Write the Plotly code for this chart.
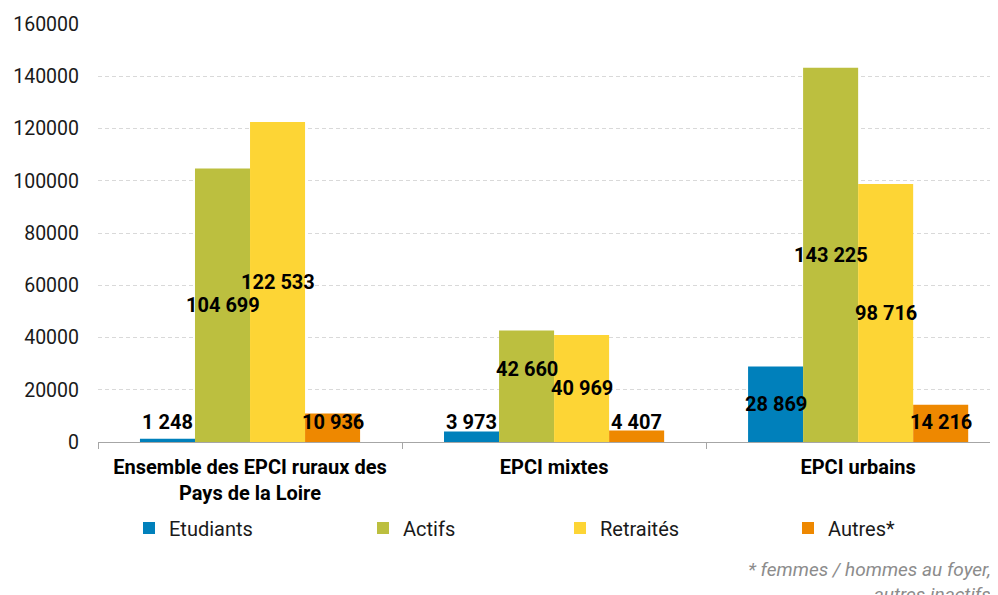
import plotly.graph_objects as go

categories = ['Ensemble des EPCI ruraux des<br>Pays de la Loire', 'EPCI mixtes', 'EPCI urbains']
series_names = ['Etudiants', 'Actifs', 'Retraités', 'Autres*']
etudiants = [1248, 3973, 28869]
actifs = [104699, 42660, 143225]
retraites = [122533, 40969, 98716]
autres = [10936, 4407, 14216]

colors = ['#0080bb', '#bcbf3f', '#fdd535', '#ee8800']
values = [etudiants, actifs, retraites, autres]

# legend symbol centres (px, in the page) for each series, one legend each
legend_px = [150, 384, 581, 809]
# small manual nudge of a label to avoid a collision, as in the source chart
label_nudge = {(1, 1): 17}


def fmt(v):
    return f'{v:,}'.replace(',', ' ')


# the page body has an 8px margin, so the figure is drawn 8px smaller
OFF = 8
W, H = 998 - OFF, 595 - OFF
fig = go.Figure()
for i, (name, vals, col) in enumerate(zip(series_names, values, colors)):
    fig.add_trace(go.Bar(
        x=categories, y=vals, name=name,
        marker=dict(color=col, line=dict(width=0)),
        hoverinfo='y+name',
        legend='legend' if i == 0 else f'legend{i + 1}'
    ))

# data labels: centred on bar, kept above the axis for small bars
bar_px = 55
for s, vals in enumerate(values):
    shift = (s - 1.5) * bar_px
    for c_i, (c, v) in enumerate(zip(categories, vals)):
        fig.add_annotation(
            x=c, y=max(v / 2, 7600), text=fmt(v), showarrow=False,
            xshift=shift, yshift=label_nudge.get((s, c_i), 0),
            yanchor='middle', xanchor='center',
            font=dict(family='Roboto', size=20, color='#000000', weight='bold')
        )

fig.add_annotation(
    xref='paper', yref='paper', x=1, y=-0.273, xanchor='right', yanchor='top',
    xshift=-5, align='right', showarrow=False,
    text='<i>* femmes / hommes au foyer,<br>autres inactifs</i>',
    font=dict(family='Roboto', size=19, color='#8c8c8c')
)

legends = {}
for i, px in enumerate(legend_px):
    key = 'legend' if i == 0 else f'legend{i + 1}'
    legends[key] = dict(
        xref='container', yref='container',
        x=(px - OFF - 21) / W, y=1 - (528 - OFF) / H, xanchor='left', yanchor='middle',
        orientation='h', itemwidth=30, bgcolor='rgba(0,0,0,0)',
        font=dict(family='Roboto', size=20, color='#1a1a1a'),
        itemclick=False
    )

fig.update_layout(
    width=W, height=H,
    plot_bgcolor='white', paper_bgcolor='white',
    font=dict(family='Roboto', size=18, color='#1a1a1a'),
    barmode='group', bargap=0.276, bargroupgap=0,
    margin=dict(l=98 - OFF, r=0, t=24 - OFF, b=595 - 442),
    showlegend=True,
    xaxis=dict(
        range=[-0.5, 2.46], showgrid=False, automargin=False,
        showline=True, linecolor='#a6a6a6', linewidth=1,
        ticks='outside', tickson='boundaries', ticklen=6, tickcolor='#a6a6a6',
        ticklabelstandoff=7,
        tickfont=dict(family='Roboto', size=20, color='#000000', weight='bold'),
        fixedrange=True
    ),
    yaxis=dict(
        range=[0, 160000], dtick=20000, tickformat='d', automargin=False,
        showgrid=True, gridcolor='#d9d9d9', griddash='4px,3px', gridwidth=1,
        zeroline=False, showline=False,
        ticks='', ticklabelstandoff=18,
        tickfont=dict(family='Roboto', size=19.5, color='#1a1a1a'),
        fixedrange=True
    ),
    **legends
)

fig.write_html('out.html')
